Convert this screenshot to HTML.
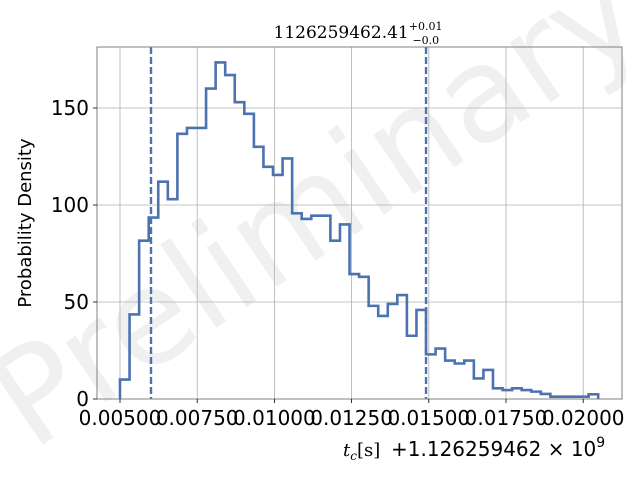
<!DOCTYPE html>
<html><head><meta charset="utf-8"><style>
html,body{margin:0;padding:0;background:#fff;width:640px;height:480px;overflow:hidden}
svg{display:block;overflow:hidden}
</style></head><body>
<svg id="chart" width="640" height="480" viewBox="0 0 640 480" xmlns="http://www.w3.org/2000/svg">
<defs><clipPath id="frameclip"><rect x="0" y="0" width="640" height="480"/></clipPath></defs>
<g clip-path="url(#frameclip)">
<text x="0" y="0" transform="translate(32,452) rotate(-34)" font-family="DejaVu Sans, Liberation Sans, sans-serif" font-size="132" fill="#000" fill-opacity="0.06">Preliminary</text>
</g>
<g id="grid"></g>
<g id="marks"></g>
<rect x="97" y="47" width="525" height="352" fill="none" stroke="#808080" stroke-width="1"/>
<g id="ticks"></g>
<text x="358" y="38" text-anchor="middle" font-family="DejaVu Serif, Liberation Serif, serif" font-size="17">1126259462.41<tspan font-size="11" dy="-8">+0.01</tspan><tspan font-size="11" dx="-30" dy="14">−0.0</tspan></text>
<text transform="translate(31,223) rotate(-90)" text-anchor="middle" font-family="DejaVu Sans, Liberation Sans, sans-serif" font-size="18">Probability Density</text>
<text x="343" y="456" font-family="DejaVu Serif, Liberation Serif, serif" font-size="18"><tspan font-style="italic">t</tspan><tspan font-size="12" font-style="italic" dy="4">c</tspan><tspan dy="-4">[s]</tspan></text>
<text x="391" y="456" font-family="DejaVu Sans, Liberation Sans, sans-serif" font-size="20">+1.126259462 × 10<tspan font-size="14" dy="-9">9</tspan></text>
</svg>
<script>
const counts = [10,43.6,81.6,93.5,112,103,136.7,139.7,139.7,160,173.5,167,153,147,130,119.7,115.5,124,95.7,92.8,94.5,94.5,81.6,90,64.4,63,48,42.8,49,53.6,32.6,45.9,23,26,19.8,18.3,19.8,10.6,15,5.5,4.6,5.5,4.6,3.8,2.6,1.2,1.2,1.2,1.2,2.4];
const binStart = 0.005;
const binEnd = 0.020485;
const xTicks = [0.005,0.0075,0.01,0.0125,0.015,0.0175,0.02];
const xTickLabels = ["0.00500","0.00750","0.01000","0.01250","0.01500","0.01750","0.02000"];
const yTicks = [0,50,100,150];
const quantiles = [0.006004,0.01491];
const X0=97,X1=622,Y0=399,Y1=47;
const xs = v => 120 + (v-0.005)/0.0025*77.2;
const ys = v => 399 - v*1.94;
const NS="http://www.w3.org/2000/svg";
const grid=document.getElementById('grid'), marks=document.getElementById('marks'), ticks=document.getElementById('ticks');
function mk(tag,attrs,parent){const e=document.createElementNS(NS,tag);for(const k in attrs)e.setAttribute(k,attrs[k]);parent.appendChild(e);return e;}
xTicks.forEach((t,i)=>{
  const x=xs(t);
  const g=mk('line',{x1:x,x2:x,y1:Y1,y2:Y0,stroke:'#b0b0b0','stroke-width':0.8},grid);
  
  
  const tk=mk('line',{x1:x,x2:x,y1:Y0,y2:Y0+4,stroke:'#000','stroke-width':0.8},ticks);
  
  
  const tl=mk('text',{x:x,y:425,'text-anchor':'middle','font-family':'DejaVu Sans, Liberation Sans, sans-serif','font-size':20},ticks);
  tl.textContent=xTickLabels[i];
  
  
});
yTicks.forEach(t=>{
  const y=ys(t);
  const g=mk('line',{x1:X0,x2:X1,y1:y,y2:y,stroke:'#b0b0b0','stroke-width':0.8},grid);
  
  
  const tk=mk('line',{x1:X0-4,x2:X0,y1:y,y2:y,stroke:'#000','stroke-width':0.8},ticks);
  
  
  const tl=mk('text',{x:X0-8,y:y+7,'text-anchor':'end','font-family':'DejaVu Sans, Liberation Sans, sans-serif','font-size':20},ticks);
  tl.textContent=String(t);
  
  
});
const bw=(binEnd-binStart)/counts.length;
let d='M'+xs(binStart)+','+ys(0);
counts.forEach((c,i)=>{const a=xs(binStart+i*bw),b=xs(binStart+(i+1)*bw);d+=' L'+a+','+ys(c)+' L'+b+','+ys(c);});
d+=' L'+xs(binEnd)+','+ys(0);
const p=mk('path',{d:d,fill:'none',stroke:'#4c72b0','stroke-width':2.6,'stroke-linejoin':'miter'},marks);


quantiles.forEach(q=>{
  const l=mk('line',{x1:xs(q),x2:xs(q),y1:Y1,y2:Y0,stroke:'#4c72b0','stroke-width':2.4,'stroke-dasharray':'7,3'},marks);
  
  
});
</script>
</body></html>
